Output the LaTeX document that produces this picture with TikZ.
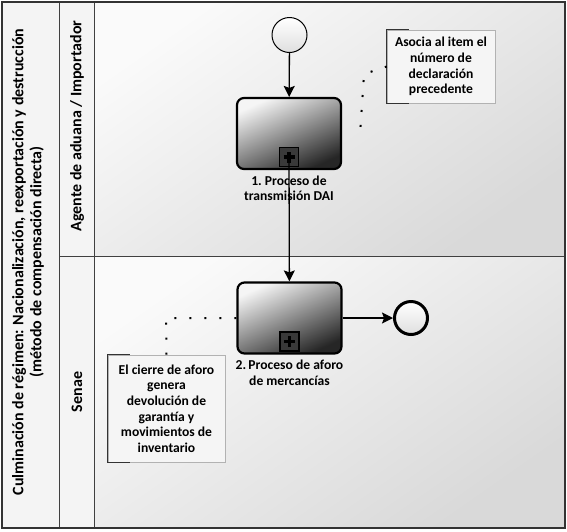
\documentclass[tikz,border=0pt]{standalone}
\usepackage{fontspec}
\setmainfont{Carlito}
\usetikzlibrary{arrows.meta,positioning}

\begin{document}
\begin{tikzpicture}
  [x=1pt,y=-1pt,
   lane/.style={top color=gray!4,bottom color=gray!30,shading angle=35},
   head/.style={fill=gray!9},
   divider/.style={draw=gray!50!black,line width=1pt},
   task/.style={draw=black,line width=2.2pt,rounded corners=7pt,minimum width=104pt,
     minimum height=71pt,inner sep=0pt,top color=gray!8,bottom color=black!85,shading angle=25},
   marker/.style={draw=black,line width=1.2pt,fill=gray!45!black,minimum size=19pt,inner sep=0pt},
   event/.style={circle,draw=black,line width=1pt,minimum size=35pt,inner sep=0pt,
     top color=white,bottom color=gray!25},
   endevent/.style={event,line width=3pt,minimum size=33pt},
   note/.style={draw=gray!60,line width=0.5pt,fill=gray!8,align=center,inner sep=3pt},
   bracket/.style={draw=black!80,line width=1pt},
   assoc/.style={draw=black,line width=2pt,dash pattern=on 2pt off 13pt},
   flow/.style={draw=black,line width=1.3pt,-{Stealth[length=11pt,width=11pt,inset=2pt]}},
   txt/.style={align=center,font=\fontsize{13.6}{15.6}\selectfont\bfseries},
   lanelabel/.style={rotate=90,align=center,font=\fontsize{16}{18}\selectfont\bfseries}]

  \useasboundingbox (0,0) rectangle (567,531);

  % pool and lanes
  \shade[lane] (94,2) rectangle (565,256);
  \shade[lane] (94,256) rectangle (565,528);
  \fill[head] (2,2) rectangle (94,528);
  \draw[divider] (59,2) -- (59,528);
  \draw[divider] (94,2) -- (94,528);
  \draw[divider] (59,256) -- (565,256);
  \draw[draw=gray!40!black,line width=2.5pt] (2,2) rectangle (565,528);

  \node (pool) [lanelabel] at (28,262)
    {Culminación de régimen: Nacionalización, reexportación y destrucción\\(método de compensación directa)};
  \node (agente) [lanelabel] at (77,126) {Agente de aduana / Importador};
  \node (senae) [lanelabel] at (77,392) {Senae};

  % flow objects
  \node (start) [event] at (289.5,35) {};
  \node (t1) [task] at (289,133.5) {};
  \node (m1) [marker, above=3pt of t1.south] {};
  \node (l1) [txt, below=2pt of t1] {1.\ Proceso de\\transmisión DAI};
  \node (t2) [task] at (289.5,318) {};
  \node (m2) [marker, above=3pt of t2.south] {};
  \node (l2) [txt, below=2pt of t2] {2.\,Proceso de aforo\\de mercancías};
  \node (end) [endevent] at (411,318) {};

  \foreach \m in {m1,m2}
    \draw[line width=3.5pt] ([yshift=-5.5pt]\m.center) -- ([yshift=5.5pt]\m.center)
                            ([xshift=-5.5pt]\m.center) -- ([xshift=5.5pt]\m.center);

  % annotations
  \node (n1) [note, txt, minimum width=108pt, minimum height=73pt] at (441,66.5)
    {Asocia al item el\\número de\\declaración\\precedente};
  \node (n2) [note, txt, minimum width=117pt, minimum height=107pt] at (166.5,408.5)
    {El cierre de aforo\\genera\\devolución de\\garantía y\\movimientos de\\inventario};
  \foreach \n in {n1,n2}
    \draw[bracket] ([xshift=22pt]\n.north west) -- (\n.north west) -- (\n.south west) -- ([xshift=22pt]\n.south west);

  \coordinate (a1) at (364,74);
  \coordinate (a2) at (360,134);
  \coordinate (b1) at (166,318);
  \draw[assoc] (n1.west) -- (a1) -- (a2);
  \draw[assoc] (t2.west) -- (b1) -- (n2.north);

  % sequence flows
  \draw[flow] (start) -- (t1);
  \draw[flow] (m1.center) -- (t2);
  \draw[flow] (t2) -- (end);

\end{tikzpicture}
\end{document}
